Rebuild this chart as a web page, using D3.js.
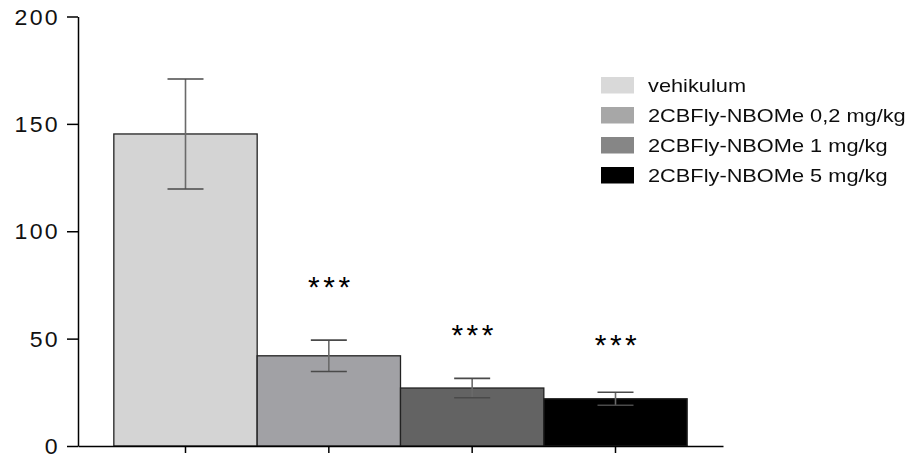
<!DOCTYPE html>
<html>
<head>
<meta charset="utf-8">
<script src="https://cdn.jsdelivr.net/npm/d3@7/dist/d3.min.js"></script>
<style>
  html, body { margin: 0; padding: 0; background: #fff; }
  svg { display: block; font-family: "Liberation Sans", Arial, sans-serif; }
</style>
</head>
<body>
<svg id="chart" width="910" height="459"></svg>
<script>
// Group means with SEM, plus significance markers
const groups = ["vehikulum", "2CBFly-NBOMe 0,2 mg/kg", "2CBFly-NBOMe 1 mg/kg", "2CBFly-NBOMe 5 mg/kg"];
const means = [145.3, 42.0, 27.0, 22.0];
const sems = [25.6, 7.3, 4.5, 3.0];
const sigLabels = ["", "***", "***", "***"];
const sigLevels = [null, 75.8, 53.5, 48.5];
const yTicks = [0, 50, 100, 150, 200];

const barColors = ["#d4d4d4", "#a1a1a5", "#636363", "#000000"];
const legendColors = ["#d9d9d9", "#a7a7a7", "#868686", "#000000"];

const svg = d3.select("#chart");

const y = d3.scaleLinear().domain([0, 200]).range([446, 16.5]);
const x = d3.scaleBand().domain(groups).range([78, 723]).paddingInner(0).paddingOuter(0.25);

// Bars
svg.append("g").selectAll("rect")
  .data(groups)
  .join("rect")
  .attr("x", d => x(d))
  .attr("y", (d, i) => y(means[i]))
  .attr("width", x.bandwidth())
  .attr("height", (d, i) => y(0) - y(means[i]))
  .attr("fill", (d, i) => barColors[i])
  .attr("stroke", "#222")
  .attr("stroke-width", 1.3);

// Error bars (mean ± SEM)
const capHalf = 18;
const eb = svg.append("g").attr("stroke", "#4a4a4a").attr("stroke-width", 1.6);
groups.forEach((g, i) => {
  const cx = x(g) + x.bandwidth() / 2;
  const hi = y(means[i] + sems[i]), lo = y(means[i] - sems[i]);
  eb.append("line").attr("x1", cx).attr("x2", cx).attr("y1", hi).attr("y2", lo).attr("stroke", "#6a6a6a");
  eb.append("line").attr("x1", cx - capHalf).attr("x2", cx + capHalf).attr("y1", hi).attr("y2", hi);
  eb.append("line").attr("x1", cx - capHalf).attr("x2", cx + capHalf).attr("y1", lo).attr("y2", lo);
});

// Significance stars
groups.forEach((g, i) => {
  if (!sigLabels[i]) return;
  const cx = x(g) + x.bandwidth() / 2;
  svg.append("text")
    .attr("x", cx + 2)
    .attr("y", y(sigLevels[i]))
    .attr("dy", "0.45em")
    .attr("text-anchor", "middle")
    .attr("font-size", 30)
    .attr("letter-spacing", 3.5)
    .attr("fill", "#000")
    .text(sigLabels[i]);
});

// Y axis
const yAxis = svg.append("g")
  .attr("transform", "translate(78,0)")
  .call(d3.axisLeft(y).tickValues(yTicks).tickSize(11).tickSizeOuter(0).tickFormat(""));
yAxis.selectAll("path, line").attr("stroke", "#000").attr("stroke-width", 1.5);

svg.append("g").selectAll("g")
  .data(yTicks)
  .join("g")
  .attr("transform", d => `translate(60,${y(d)}) scale(1.05,1)`)
  .append("text")
  .attr("text-anchor", "end")
  .attr("dy", "0.37em")
  .attr("font-size", 22)
  .attr("letter-spacing", 2.2)
  .attr("fill", "#111")
  .text(d => d);

// X axis
const xAxis = svg.append("g")
  .attr("transform", `translate(0,${y(0)})`)
  .call(d3.axisBottom(x).tickSize(7).tickSizeOuter(0).tickFormat(""));
xAxis.selectAll("path, line").attr("stroke", "#000").attr("stroke-width", 1.5);

// Legend
const defs = svg.append("defs");
defs.append("filter").attr("id", "soft")
  .append("feGaussianBlur").attr("stdDeviation", 0.6);

const legend = svg.append("g").attr("filter", "url(#soft)");
const rows = legend.selectAll("g")
  .data(groups)
  .join("g")
  .attr("transform", (d, i) => `translate(601,${77 + i * 30})`);
rows.append("rect")
  .attr("width", 33)
  .attr("height", 16.5)
  .attr("fill", (d, i) => legendColors[i]);
rows.append("g")
  .attr("transform", "translate(47,15) scale(1.19,1)")
  .append("text")
  .attr("font-size", 18.3)
  .attr("fill", "#111")
  .text(d => d);
</script>
</body>
</html>
